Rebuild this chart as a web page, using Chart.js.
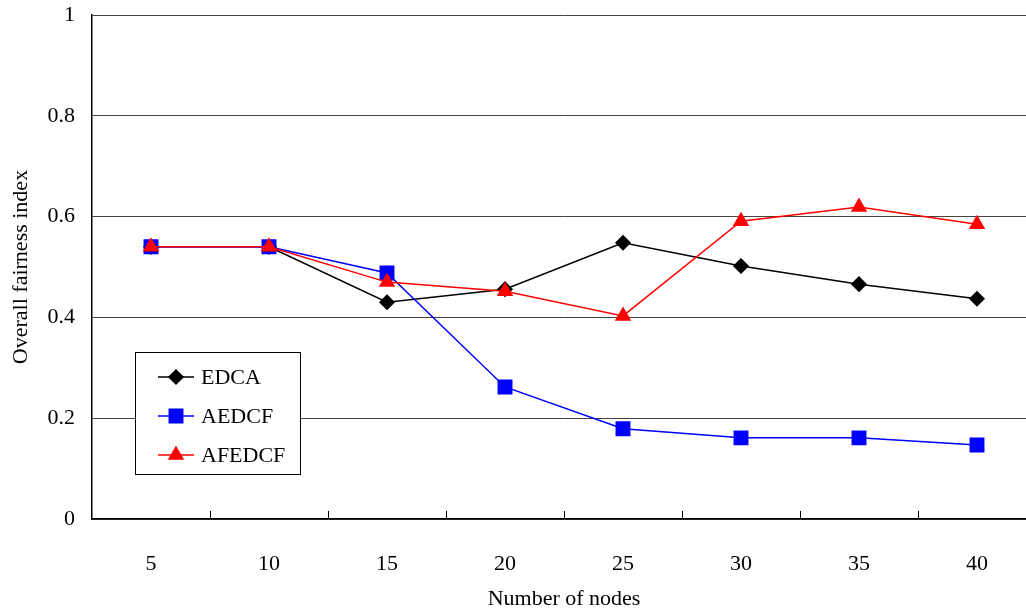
<!DOCTYPE html>
<html>
<head>
<meta charset="utf-8">
<script src="https://cdn.jsdelivr.net/npm/chart.js@4/dist/chart.umd.min.js"></script>
<style>
  html,body{margin:0;padding:0;background:#fff;overflow:hidden;}
</style>
</head>
<body>
<canvas id="c" width="1047" height="614"></canvas>
<script>
const nodes = ["5","10","15","20","25","30","35","40"];
const edca   = [0.54, 0.54, 0.43, 0.456, 0.548, 0.502, 0.466, 0.437];
const aedcf  = [0.54, 0.54, 0.488, 0.262, 0.179, 0.161, 0.161, 0.147];
const afedcf = [0.54, 0.54, 0.47, 0.452, 0.403, 0.591, 0.619, 0.585];

const FONT = "'Liberation Serif', 'DejaVu Serif', serif";

// small upward ticks between categories on the x axis
const innerTicks = {
  id: "innerTicks",
  afterDraw(chart) {
    const ctx = chart.ctx, x = chart.scales.x, b = chart.chartArea.bottom;
    ctx.save();
    ctx.strokeStyle = "#000"; ctx.lineWidth = 1;
    for (let i = 1; i < nodes.length; i++) {
      const px = Math.round((x.getPixelForValue(i-1) + x.getPixelForValue(i)) / 2) + 0.5;
      ctx.beginPath(); ctx.moveTo(px, b); ctx.lineTo(px, b - 8); ctx.stroke();
    }
    ctx.restore();
  }
};

// boxed legend inside the plot
const boxLegend = {
  id: "boxLegend",
  afterDraw(chart) {
    const ctx = chart.ctx;
    const x0 = 135, y0 = 352, w = 165, h = 122;
    ctx.save();
    ctx.fillStyle = "#fff";
    ctx.fillRect(x0, y0, w, h);
    ctx.strokeStyle = "#000"; ctx.lineWidth = 1;
    ctx.strokeRect(x0 + 0.5, y0 + 0.5, w, h);
    const rows = [377, 416, 455];
    chart.data.datasets.forEach((ds, i) => {
      const y = rows[i];
      ctx.strokeStyle = ds.borderColor; ctx.lineWidth = 1.5;
      ctx.beginPath(); ctx.moveTo(158, y); ctx.lineTo(194, y); ctx.stroke();
      ctx.fillStyle = ds.pointBackgroundColor;
      ctx.strokeStyle = ds.pointBorderColor;
      Chart.helpers.drawPoint(ctx, {pointStyle: ds.pointStyle, radius: ds.pointRadius, rotation: 0, borderWidth: 1}, 176, y);
      ctx.fillStyle = "#000";
      ctx.font = "22px " + FONT;
      ctx.textBaseline = "middle";
      ctx.fillText(ds.label, 201, y + 1);
    });
    ctx.restore();
  }
};

new Chart(document.getElementById("c"), {
  type: "line",
  data: {
    labels: nodes,
    datasets: [
      {label: "EDCA", data: edca, borderColor: "#000", pointBackgroundColor: "#000", pointBorderColor: "#000",
       pointStyle: "rectRot", pointRadius: 7, borderWidth: 1.5, order: 3},
      {label: "AEDCF", data: aedcf, borderColor: "#0000ff", pointBackgroundColor: "#0000ff", pointBorderColor: "#0000ff",
       pointStyle: "rect", pointRadius: 9.5, borderWidth: 1.5, order: 2},
      {label: "AFEDCF", data: afedcf, borderColor: "#ff0000", pointBackgroundColor: "#ff0000", pointBorderColor: "#ff0000",
       pointStyle: "triangle", pointRadius: 8, borderWidth: 1.5, order: 1}
    ]
  },
  options: {
    responsive: false,
    animation: false,
    layout: {padding: {top: 0, right: 4, left: 0, bottom: 0}},
    plugins: {legend: {display: false}, tooltip: {enabled: false}},
    scales: {
      x: {
        offset: true,
        grid: {display: false, offset: true},
        border: {color: "#000", width: 1.5},
        ticks: {color: "#000", font: {family: FONT, size: 22}, padding: 24, maxRotation: 0},
        title: {display: true, text: "Number of nodes", color: "#000", font: {family: FONT, size: 22}, padding: {top: 0, bottom: 2}},
        afterFit(s) { s.height = 95; s.paddingLeft = 0; s.paddingRight = 0; }
      },
      y: {
        min: 0, max: 1,
        ticks: {stepSize: 0.2, color: "#000", font: {family: FONT, size: 22}, padding: 17,
                callback: v => String(Math.round(v * 10) / 10)},
        grid: {color: "#444", lineWidth: 1, drawTicks: false},
        border: {color: "#000", width: 1.5},
        title: {display: true, text: "Overall fairness index", color: "#000", font: {family: FONT, size: 22}, padding: {top: 8, bottom: 0}},
        afterFit(s) { s.width = 92; s.paddingTop = 15; s.paddingBottom = 0; }
      }
    }
  },
  plugins: [innerTicks, boxLegend]
});
</script>
</body>
</html>
